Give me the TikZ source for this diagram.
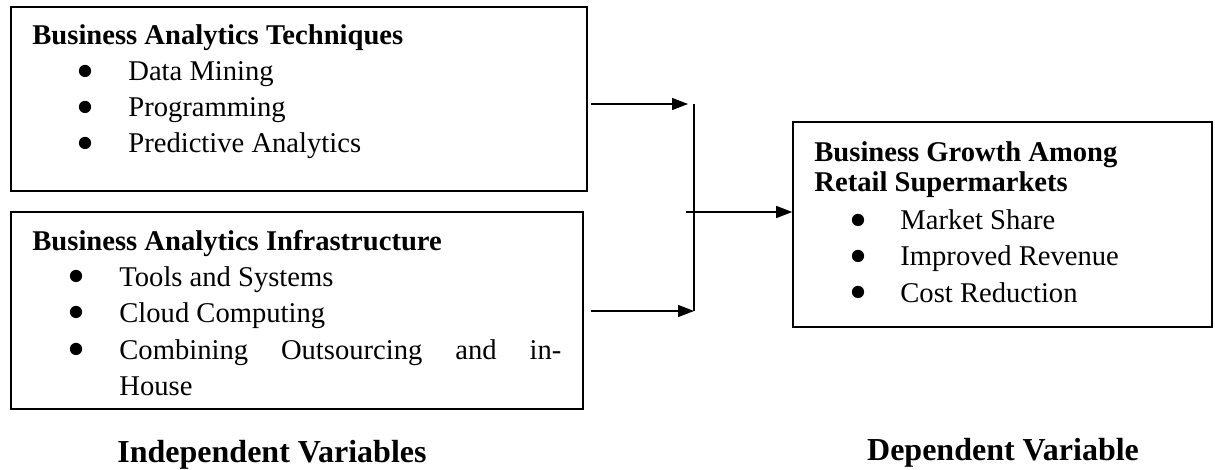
\documentclass[tikz,border=0pt]{standalone}
\usepackage{fontspec}
\setmainfont{Liberation Serif}
\usepackage{tikz}
\usetikzlibrary{arrows.meta, positioning, calc}
\newcommand{\cuerpo}{\fontsize{14.3}{17}\selectfont}
\newcommand{\rotulo}{\fontsize{16}{19}\selectfont\bfseries}
\tikzset{
  caja/.style={draw, line width=0.8pt},
  flecha/.style={line width=0.7pt, -{Triangle[length=8pt, width=6pt]}},
  titulo/.style={font=\cuerpo\bfseries, anchor=base west, inner sep=0pt},
}
\newcommand{\vineta}[4]{%
  \node[anchor=base, inner sep=0pt] (#1b) at (#2,#3) {\smash{\raisebox{-3.6pt}{\scalebox{1.8}{\textbullet}}}};
  \node[anchor=base west, inner sep=0pt] (#1) at (#2+42,#3) {#4};%
}

\begin{document}
\begin{tikzpicture}[x=0.5pt, y=-0.5pt, font=\cuerpo]
        \useasboundingbox (0,0) rectangle (1215,470);
        % cajas
        \node[caja, minimum width=288pt, minimum height=92pt, inner sep=0pt]
          (tecnicas) at (299,99) {};
        \node[caja, minimum width=286pt, minimum height=98.5pt, inner sep=0pt]
          (infra) at (297,310.5) {};
        \node[caja, minimum width=209.5pt, minimum height=102.5pt, inner sep=0pt]
          (crecimiento) at (1002.5,224.5) {};
        % tecnicas
        \node[titulo] (tec) at (32,45) {Business Analytics Techniques};
        \vineta{t1}{86}{81}{Data Mining}
        \vineta{t2}{86}{117}{Programming}
        \vineta{t3}{86}{153}{Predictive Analytics}
        % infraestructura
        \node[titulo] (inf) at (32,250) {Business Analytics Infrastructure};
        \vineta{i1}{77}{286}{Tools and Systems}
        \vineta{i2}{77}{322}{Cloud Computing}
        \vineta{i3}{77}{359}{\makebox[221pt][s]{Combining Outsourcing and in-}}
        \node[anchor=base west, inner sep=0pt] (i4) at (119,395) {House};
        % crecimiento
        \node[titulo] (cre1) at (814,162) {Business Growth Among};
        \node[titulo] (cre2) at (814,192) {Retail Supermarkets};
        \vineta{c1}{858}{230}{Market Share}
        \vineta{c2}{858}{266}{Improved Revenue}
        \vineta{c3}{858}{302}{Cost Reduction}
        % flechas
        \coordinate (a1) at (tecnicas.east |- 0,104);
        \coordinate (a2) at (688,104);
        \coordinate (jt) at (694,104);
        \coordinate (jb) at (694,311);
        \coordinate (b1) at (infra.east |- 0,311);
        \coordinate (m) at (686,212);
        \draw[flecha] ($(a1)+(3,0)$) -- (a2);
        \draw[line width=0.7pt] (jt) -- (jb);
        \draw[flecha] ($(b1)+(7,0)$) -- (jb);
        \draw[flecha] (m) -- (crecimiento.west |- m);
        % etiquetas
        \node[font=\rotulo, anchor=base] (indep) at (272,462) {Independent Variables};
        \node[font=\rotulo, anchor=base] (dep) at (1003,460) {Dependent Variable};
      \end{tikzpicture}
\end{document}
